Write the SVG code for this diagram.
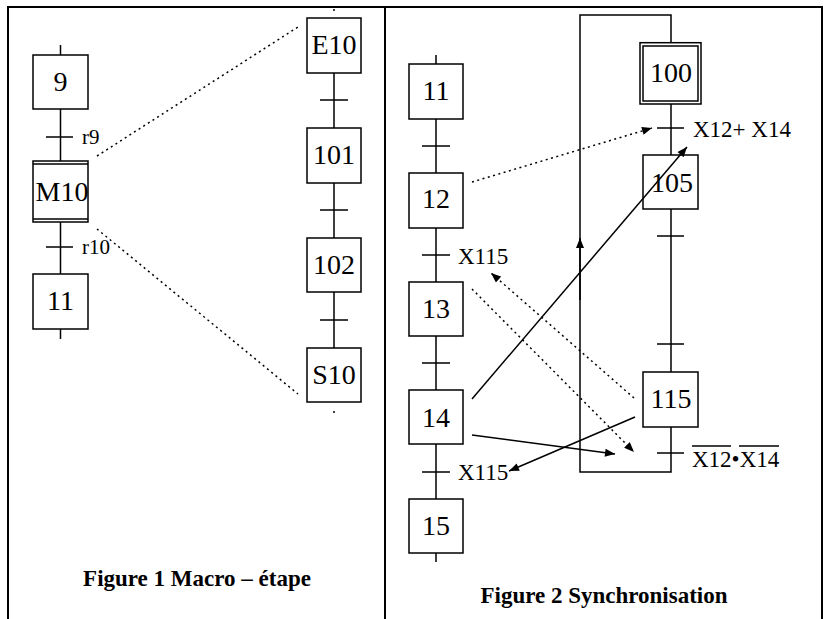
<svg xmlns="http://www.w3.org/2000/svg" width="826" height="619" viewBox="0 0 826 619">
<style>
.step{fill:none;stroke:#000;stroke-width:1.5}
.ln{stroke:#000;stroke-width:1.5;fill:none}
.fr{stroke:#000;stroke-width:2;fill:none}
.dot{stroke:#000;stroke-width:1.5;fill:none;stroke-dasharray:2 3.5}
.num{font-family:"Liberation Serif","Times New Roman",serif;font-size:28px;text-anchor:middle;fill:#000}
.lbl{font-family:"Liberation Serif","Times New Roman",serif;font-size:23px;fill:#000}
.rl{font-family:"Liberation Serif","Times New Roman",serif;font-size:21px;fill:#000}
.cap{font-family:"Liberation Serif","Times New Roman",serif;font-size:23px;font-weight:bold;text-anchor:middle;fill:#000}
</style>
<defs>
<marker id="ah" viewBox="0 0 10 8" refX="10" refY="4" markerWidth="11" markerHeight="8" markerUnits="userSpaceOnUse" orient="auto">
<path d="M0,0 L10,4 L0,8 Z" fill="#000"/>
</marker>
</defs>
<g id="frame">
<path class="fr" d="M8,619 V7 H822 V619 M385,7 V619"/>
</g>
<g id="connectors">
<path class="ln" d="M60.5,45 V55 M60.5,109 V161 M46,137 H73 M60.5,222 V274 M46,247 H73 M60.5,329 V339"/>
<path class="ln" d="M334,9 V11 M334,73 V128 M320,100 H348 M334,183 V238 M320,210 H348 M334,292 V348 M320,320 H348 M334,411 V413"/>
<path class="dot" d="M97,156 L298,27 M97,229 L298,394"/>
<path class="ln" d="M436,55 V64 M436,119 V173 M422,146 H450 M436,228 V282 M422,255 H450 M436,336 V390 M422,363 H450 M436,444 V499 M422,472 H450 M436,553 V562"/>
<path class="ln" d="M671,42.7 V15 H580 V472 H671 V427 M671,104 V155 M657,128 H684 M671,209 V372 M657,236 H684 M657,344 H684 M657,453 H684"/>
<path class="ln" d="M580,300 V238" marker-end="url(#ah)"/>
<path class="dot" d="M472,182 L652,128" marker-end="url(#ah)"/>
<path class="ln" d="M472,399 L687,147" marker-end="url(#ah)"/>
<path class="dot" d="M634,398 L491,273" marker-end="url(#ah)"/>
<path class="dot" d="M472,289 L634,452" marker-end="url(#ah)"/>
<path class="ln" d="M472,435 L615,454" marker-end="url(#ah)"/>
<path class="ln" d="M635,417 L509,471" marker-end="url(#ah)"/>
</g>
<g id="step9"><rect class="step" x="33" y="55" width="55" height="54"/><text class="num" x="60.5" y="91">9</text></g>
<g id="stepM10"><rect class="step" x="33" y="161" width="55" height="61"/><path class="ln" d="M33,164 H88 M33,219 H88"/><text class="num" x="62" y="201">M10</text></g>
<g id="step11a"><rect class="step" x="33" y="274" width="55" height="55"/><text class="num" x="60.5" y="310">11</text></g>
<g id="stepE10"><rect class="step" x="307" y="18" width="54" height="55"/><text class="num" x="334" y="54">E10</text></g>
<g id="step101"><rect class="step" x="307" y="128" width="54" height="55"/><text class="num" x="334" y="164">101</text></g>
<g id="step102"><rect class="step" x="307" y="238" width="54" height="54"/><text class="num" x="334" y="274">102</text></g>
<g id="stepS10"><rect class="step" x="307" y="348" width="54" height="54"/><text class="num" x="334" y="384">S10</text></g>
<g id="labels1"><text class="rl" x="82" y="144">r9</text><text class="rl" x="82" y="254">r10</text></g>
<g id="step11b"><rect class="step" x="409" y="64" width="54" height="55"/><text class="num" x="436" y="100">11</text></g>
<g id="step12"><rect class="step" x="409" y="173" width="54" height="55"/><text class="num" x="436" y="208">12</text></g>
<g id="step13"><rect class="step" x="409" y="282" width="54" height="54"/><text class="num" x="436" y="318">13</text></g>
<g id="step14"><rect class="step" x="409" y="390" width="54" height="54"/><text class="num" x="436" y="427">14</text></g>
<g id="step15"><rect class="step" x="409" y="499" width="54" height="54"/><text class="num" x="436" y="535">15</text></g>
<g id="step100"><rect class="step" x="640" y="42.7" width="61" height="61.3"/><rect class="step" x="643" y="46" width="55" height="55"/><text class="num" x="671" y="82">100</text></g>
<g id="step105"><rect class="step" x="643" y="155" width="55" height="54"/><text class="num" x="672" y="192">105</text></g>
<g id="step115"><rect class="step" x="643" y="372" width="55" height="55"/><text class="num" x="671" y="408">115</text></g>
<g id="labels2">
<text class="lbl" x="458" y="264">X115</text>
<text class="lbl" x="458" y="480">X115</text>
<text class="lbl" x="693" y="137">X12+ X14</text>
<text class="lbl" x="692" y="467">X12•X14</text>
<path class="ln" d="M692,446 H731 M739,446 H779" stroke-width="1.2"/>
</g>
<g id="captions">
<text class="cap" x="197" y="586">Figure 1 Macro – étape</text>
<text class="cap" x="604" y="603">Figure 2 Synchronisation</text>
</g>
</svg>
